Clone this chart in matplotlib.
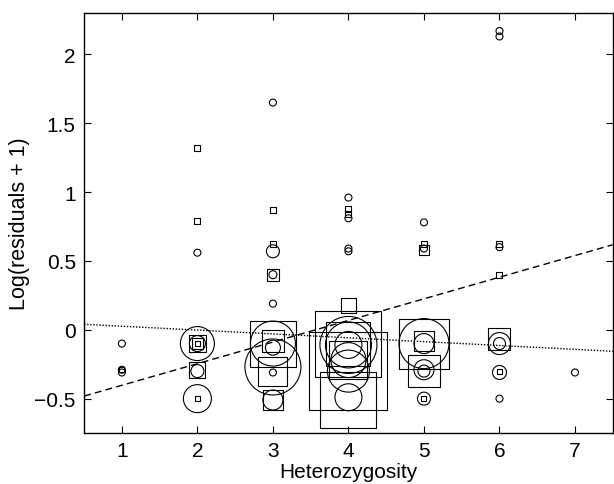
import numpy as np
import matplotlib
matplotlib.use('Agg')
import matplotlib.pyplot as plt

plt.rcParams['font.family'] = ['Liberation Sans', 'DejaVu Sans']

# circles: x, y, diameter (px)
circ_x = [1, 1, 1,
          2, 2, 2, 2, 2,
          3, 3, 3, 3, 3, 3, 3, 3, 3,
          4, 4, 4, 4, 4, 4, 4, 4, 4, 4,
          5, 5, 5, 5, 5, 5, 5,
          6, 6, 6, 6, 6, 6, 6,
          7]
circ_y = [-0.10, -0.29, -0.31,
          0.56, -0.10, -0.10, -0.30, -0.50,
          1.65, 0.57, 0.40, 0.19, -0.10, -0.27, -0.13, -0.31, -0.51,
          0.96, 0.81, 0.59, 0.57, -0.11, -0.11, -0.11, -0.30, -0.49, -0.22,
          0.78, 0.59, -0.10, -0.10, -0.30, -0.29, -0.50,
          2.17, 2.13, 0.60, -0.10, -0.10, -0.31, -0.50,
          -0.31]
circ_d = [7, 7, 7,
          7, 34, 16, 13, 28,
          7, 13, 8, 7, 45, 56, 15, 7, 20,
          7, 7, 7, 7, 57, 46, 27, 42, 27, 35,
          7, 7, 50, 20, 12, 20, 13,
          7, 7, 7, 22, 12, 14, 7,
          7]

# squares: x, y, side (px)
sq_x = [1,
        2, 2, 2, 2, 2, 2, 2,
        3, 3, 3, 3, 3, 3, 3,
        4, 4, 4, 4, 4, 4, 4, 4,
        5, 5, 5, 5, 5, 5,
        6, 6, 6, 6]
sq_y = [-0.29,
        1.32, 0.79, -0.10, -0.10, -0.10, -0.29, -0.50,
        0.87, 0.62, 0.40, -0.10, -0.08, -0.30, -0.51,
        0.875, 0.84, 0.18, -0.10, -0.30, -0.51, -0.10, -0.22,
        0.62, 0.58, -0.10, -0.08, -0.30, -0.50,
        0.62, 0.40, -0.07, -0.30]
sq_d = [5,
        6, 6, 17, 11, 5, 16, 5,
        6, 6, 12, 46, 22, 29, 20,
        6, 6, 15, 66, 78, 56, 44, 38,
        6, 10, 50, 20, 32, 5,
        6, 6, 22, 5]

# regression lines
dash_b, dash_a = 0.157, -0.56
dot_b, dot_a = -0.028, 0.054

fig = plt.figure(figsize=(6.14, 4.85), dpi=100)
ax = fig.add_axes([0.137, 0.105, 0.861, 0.866])

px2pt = 72 / 100
ax.scatter(circ_x, circ_y, s=(np.array(circ_d) * px2pt) ** 2, marker='o',
           facecolors='none', edgecolors='black', linewidths=0.8, zorder=3)
ax.scatter(sq_x, sq_y, s=(np.array(sq_d) * px2pt) ** 2, marker='s',
           facecolors='none', edgecolors='black', linewidths=0.8, zorder=3)

xl = np.array([0.5, 7.5])
ax.plot(xl, dash_a + dash_b * xl, color='black', ls=(0, (5, 3)), lw=1.0, zorder=4)
ax.plot(xl, dot_a + dot_b * xl, color='black', ls=(0, (1, 1.2)), lw=1.0, zorder=4)

ax.set_xlim(0.5, 7.5)
ax.set_ylim(-0.75, 2.3)
ax.set_xticks([1, 2, 3, 4, 5, 6, 7])
ax.set_yticks([-0.5, 0, 0.5, 1, 1.5, 2])
ax.set_yticklabels(['\u22120.5', '0', '0.5', '1', '1.5', '2'])
ax.tick_params(direction='in', top=True, right=True, length=5, width=0.8,
               labelsize=15, pad=6)
for s in ax.spines.values():
    s.set_linewidth(1.0)

ax.set_xlabel('Heterozygosity', fontsize=15, labelpad=1)
ax.set_ylabel('Log(residuals + 1)', fontsize=15.5, labelpad=3)

fig.savefig('out.png', dpi=100)
